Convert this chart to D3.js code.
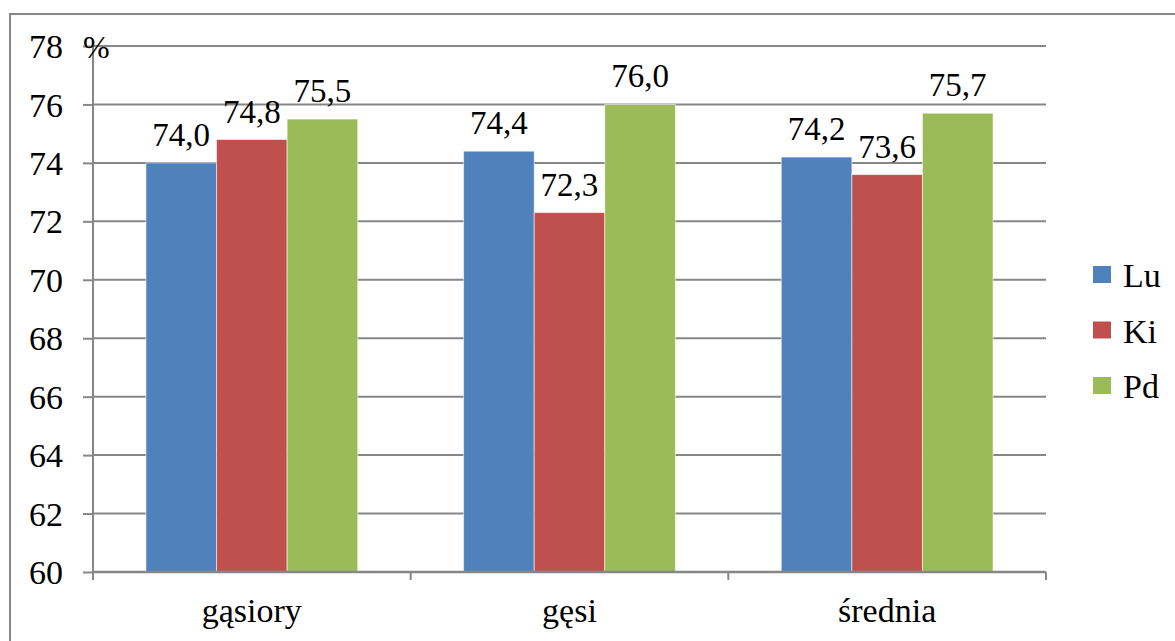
<!DOCTYPE html>
<html>
<head>
<meta charset="utf-8">
<script src="https://cdn.jsdelivr.net/npm/d3@7"></script>
</head>
<body style="margin:0;padding:0;background:#fff">
<svg id="chart" width="1175" height="641" style="display:block" font-family="Liberation Serif"></svg>
<script>
// Chart data
const categories = ["gąsiory", "gęsi", "średnia"];
const seriesNames = ["Lu", "Ki", "Pd"];
const seriesColors = ["#4F81BD", "#C0504D", "#9BBB59"];
const valuesLu = [74.0, 74.4, 74.2];
const valuesKi = [74.8, 72.3, 73.6];
const valuesPd = [75.5, 76.0, 75.7];
const yTicks = [60, 62, 64, 66, 68, 70, 72, 74, 76, 78];
const yUnit = "%";

const seriesValues = [valuesLu, valuesKi, valuesPd];
const rows = categories.map((c, i) => ({
  category: c,
  bars: seriesNames.map((s, j) => ({ series: s, value: seriesValues[j][i], color: seriesColors[j] }))
}));

// serif typeface for every label
function serif(sel, size) {
  return sel.attr("font-family", "Liberation Serif")
    .style("font-family", "'Liberation Serif'")
    .attr("font-size", size)
    .style("font-size", size + "px")
    .attr("fill", "#000");
}

const svg = d3.select("#chart");
const W = 1175, H = 641;
const plot = { left: 93, right: 1046, top: 46, bottom: 572 };
const gridColor = "#878787";
const fmt = v => v.toFixed(1).replace(".", ",");

// Outer chart frame
svg.append("rect")
  .attr("x", 10).attr("y", 14)
  .attr("width", W + 20).attr("height", H + 20)
  .attr("fill", "#fff")
  .attr("stroke", gridColor).attr("stroke-width", 2);

const y = d3.scaleLinear().domain([60, 78]).range([plot.bottom, plot.top]);
const x0 = d3.scaleBand().domain(categories).range([plot.left, plot.right]).paddingInner(0).paddingOuter(0);
// gap width 150% of one bar on each category
const groupW = x0.bandwidth() * 3 / 4.5;
const x1 = d3.scaleBand().domain(seriesNames).range([0, groupW]).padding(0);
const groupOffset = (x0.bandwidth() - groupW) / 2;

// Horizontal gridlines
svg.append("g")
  .selectAll("line")
  .data(yTicks.filter(t => t !== 60))
  .join("line")
  .attr("x1", plot.left).attr("x2", plot.right)
  .attr("y1", d => y(d)).attr("y2", d => y(d))
  .attr("stroke", gridColor).attr("stroke-width", 2);

// Bars
const groups = svg.append("g")
  .selectAll("g")
  .data(rows)
  .join("g")
  .attr("transform", d => `translate(${x0(d.category) + groupOffset},0)`);

groups.selectAll("rect")
  .data(d => d.bars)
  .join("rect")
  .attr("x", d => x1(d.series))
  .attr("y", d => y(d.value))
  .attr("width", x1.bandwidth())
  .attr("height", d => y(60) - y(d.value))
  .attr("fill", d => d.color)
  .attr("stroke", "rgba(255,255,255,0.55)")
  .attr("stroke-width", 1);

// Value labels
serif(groups.selectAll("text")
  .data(d => d.bars)
  .join("text")
  .attr("x", d => x1(d.series) + x1.bandwidth() / 2)
  .attr("y", d => y(d.value) - 17)
  .attr("text-anchor", "middle"), 33)
  .text(d => fmt(d.value));

// Y axis
const yAxis = d3.axisLeft(y).tickValues(yTicks).tickSize(10).tickPadding(20).tickFormat(d3.format("d"));
const gy = svg.append("g").attr("transform", `translate(${plot.left},0)`).call(yAxis);
serif(gy, 34);
gy.select(".domain").attr("stroke", gridColor).attr("stroke-width", 2).attr("d", `M0,${plot.bottom}V${plot.top}`);
gy.selectAll(".tick line").attr("stroke", gridColor).attr("stroke-width", 2);
serif(gy.selectAll(".tick text"), 34).attr("dy", "0.34em");

// Unit label next to the top tick
serif(svg.append("text")
  .attr("x", 83).attr("y", y(78) + 12), 32)
  .text(yUnit);

// X axis
const xAxis = d3.axisBottom(x0).tickSize(0).tickPadding(0).tickFormat("");
const gx = svg.append("g").attr("transform", `translate(0,${plot.bottom})`).call(xAxis);
gx.select(".domain").attr("stroke", gridColor).attr("stroke-width", 2.5).attr("d", `M${plot.left},0H${plot.right}`);
// Category boundary ticks
const boundaries = categories.map(c => x0(c)).concat([plot.right]);
gx.selectAll(".bound")
  .data(boundaries)
  .join("line")
  .attr("class", "bound")
  .attr("x1", d => d).attr("x2", d => d)
  .attr("y1", 0).attr("y2", 8)
  .attr("stroke", gridColor).attr("stroke-width", 2);

serif(svg.append("g")
  .selectAll("text")
  .data(categories)
  .join("text")
  .attr("x", d => x0(d) + x0.bandwidth() / 2)
  .attr("y", 622)
  .attr("text-anchor", "middle"), 34)
  .text(d => d);

// Legend
const legend = svg.append("g").attr("transform", "translate(1093,266)");
const li = legend.selectAll("g")
  .data(seriesNames.map((s, i) => ({ name: s, color: seriesColors[i] })))
  .join("g")
  .attr("transform", (d, i) => `translate(0,${i * 55.5})`);
li.append("rect").attr("width", 18).attr("height", 17).attr("fill", d => d.color);
serif(li.append("text").attr("x", 30).attr("y", 21), 34).text(d => d.name);
</script>
</body>
</html>
